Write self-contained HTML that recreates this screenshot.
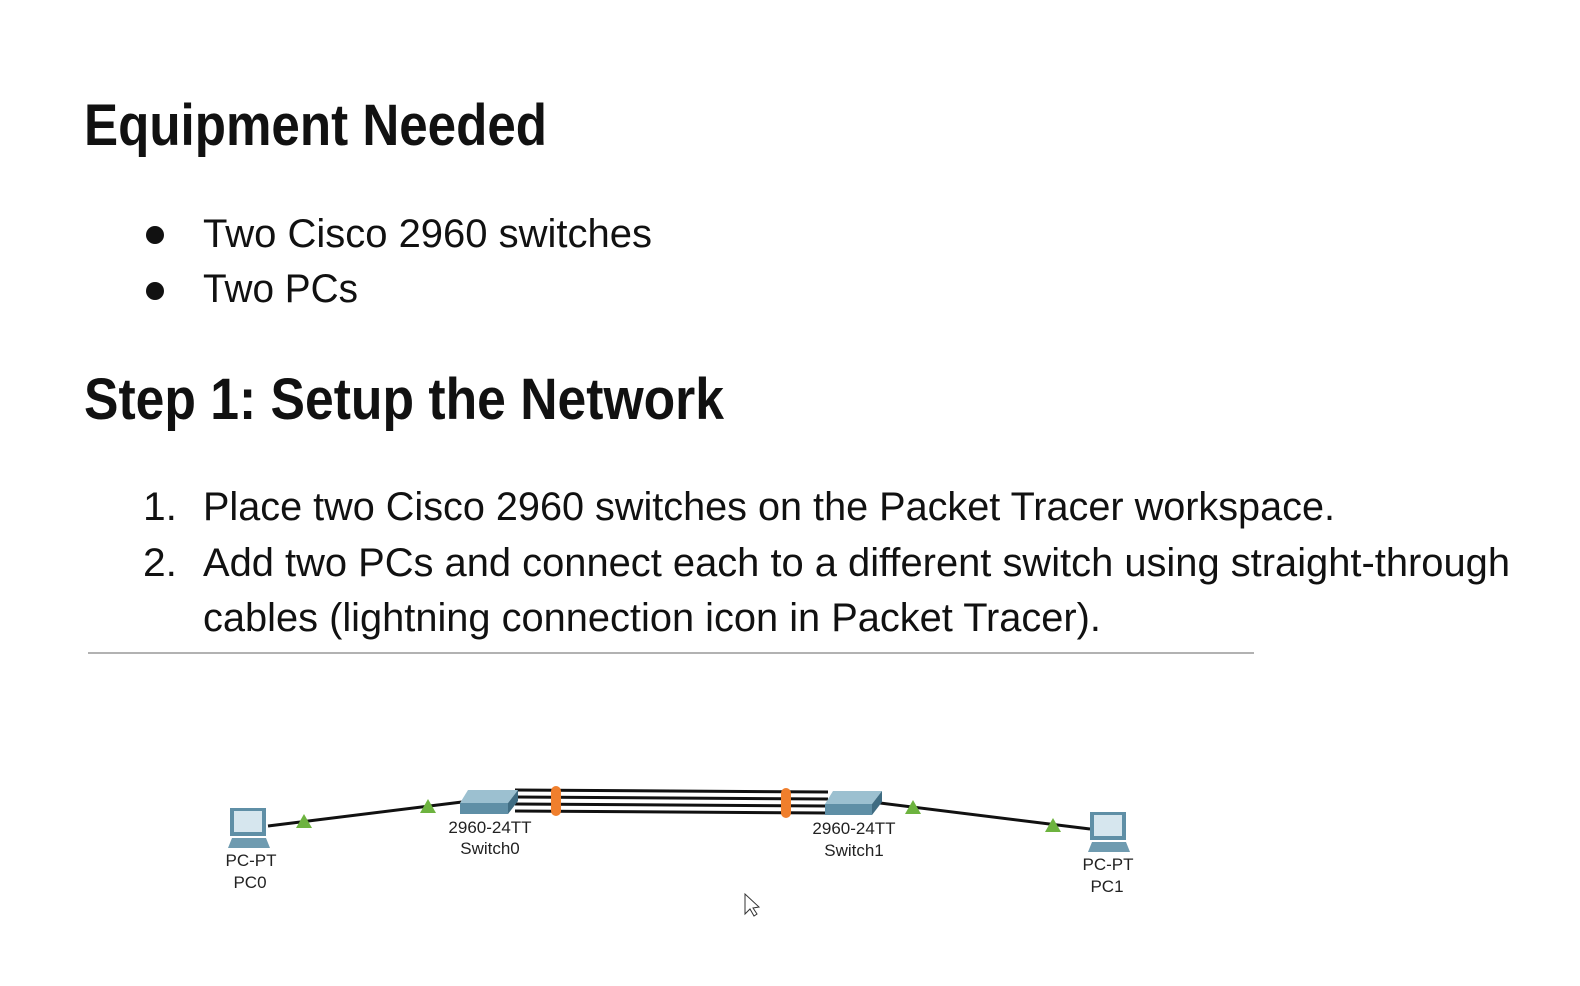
<!DOCTYPE html>
<html><head><meta charset="utf-8"><style>
html,body{margin:0;padding:0;background:#fff;}
svg{display:block}
</style></head><body>
<svg width="1580" height="986" viewBox="0 0 1580 986" xmlns="http://www.w3.org/2000/svg" font-family="Liberation Sans, sans-serif">
<rect width="1580" height="986" fill="#fff"/>
<g fill="#111">
<text x="84" y="145" font-size="58" font-weight="bold" textLength="463" lengthAdjust="spacingAndGlyphs">Equipment Needed</text>
<circle cx="155" cy="235" r="9"/>
<circle cx="155" cy="291" r="9"/>
<text x="203" y="247" font-size="40" textLength="449" lengthAdjust="spacingAndGlyphs">Two Cisco 2960 switches</text>
<text x="203" y="302" font-size="40" textLength="155" lengthAdjust="spacingAndGlyphs">Two PCs</text>
<text x="84" y="419" font-size="58" font-weight="bold" textLength="640" lengthAdjust="spacingAndGlyphs">Step 1: Setup the Network</text>
<text x="143" y="520" font-size="40" textLength="34" lengthAdjust="spacingAndGlyphs">1.</text>
<text x="203" y="520" font-size="40" textLength="1132" lengthAdjust="spacingAndGlyphs">Place two Cisco 2960 switches on the Packet Tracer workspace.</text>
<text x="143" y="576" font-size="40" textLength="34" lengthAdjust="spacingAndGlyphs">2.</text>
<text x="203" y="576" font-size="40" textLength="1307" lengthAdjust="spacingAndGlyphs">Add two PCs and connect each to a different switch using straight-through</text>
<text x="203" y="631" font-size="40" textLength="898" lengthAdjust="spacingAndGlyphs">cables (lightning connection icon in Packet Tracer).</text>
</g>
<line x1="88" y1="653" x2="1254" y2="653" stroke="#999" stroke-width="1.5"/>

<!-- links -->
<g stroke="#111" stroke-width="3">
<line x1="268" y1="826" x2="462" y2="802"/>
<line x1="880" y1="803" x2="1090" y2="829"/>
<line x1="515" y1="790" x2="828" y2="792"/>
<line x1="515" y1="797" x2="828" y2="799"/>
<line x1="515" y1="804" x2="828" y2="806"/>
<line x1="515" y1="811" x2="828" y2="813"/>
</g>
<g fill="#6db33f">
<polygon points="304,814 296,828 312,828"/>
<polygon points="428,799 420,813 436,813"/>
<polygon points="913,800 905,814 921,814"/>
<polygon points="1053,818 1045,832 1061,832"/>
</g>
<g fill="#f07f2d">
<rect x="551" y="786" width="10" height="30" rx="5"/>
<rect x="781" y="788" width="10" height="30" rx="5"/>
</g>
<!-- switches -->
<g>
<polygon points="468,790 518,790 508,803 460,803" fill="#9cc0d0"/>
<rect x="460" y="803" width="48" height="11" fill="#5f8fa6"/>
<polygon points="508,803 518,790 518,801 508,814" fill="#3f6c82"/>
<polygon points="833,791 882,791 872,804 825,804" fill="#9cc0d0"/>
<rect x="825" y="804" width="47" height="11" fill="#5f8fa6"/>
<polygon points="872,804 882,791 882,802 872,815" fill="#3f6c82"/>
</g>
<!-- PCs -->
<g>
<rect x="230" y="808" width="36" height="28" fill="#5f8fa6"/>
<rect x="234" y="811" width="28" height="21" fill="#d6e6ee"/>
<polygon points="228,848 232,838 266,838 270,848" fill="#6f9bb0"/>
<rect x="1090" y="812" width="36" height="28" fill="#5f8fa6"/>
<rect x="1094" y="815" width="28" height="21" fill="#d6e6ee"/>
<polygon points="1088,852 1092,842 1126,842 1130,852" fill="#6f9bb0"/>
</g>
<g font-size="17" fill="#222" text-anchor="middle">
<text x="490" y="833">2960-24TT</text>
<text x="490" y="854">Switch0</text>
<text x="854" y="834">2960-24TT</text>
<text x="854" y="856">Switch1</text>
<text x="251" y="866">PC-PT</text>
<text x="250" y="888">PC0</text>
<text x="1108" y="870">PC-PT</text>
<text x="1107" y="892">PC1</text>
</g>
<polygon points="745,894 745,914 750,909 754,916 757,914 753,908 759,907" fill="#fff" stroke="#333" stroke-width="1"/>
</svg>
</body></html>
